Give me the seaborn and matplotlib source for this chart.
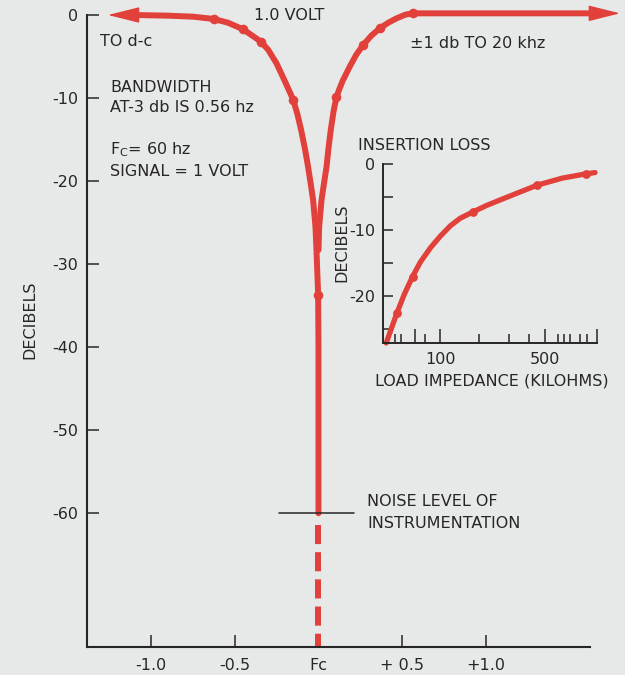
import matplotlib
matplotlib.use("Agg")
import matplotlib.pyplot as plt
from matplotlib.ticker import NullFormatter
import seaborn as sns

RED = "#e2403a"
INK = "#262626"
PAPER = "#e7e9e8"

# Notch response around the centre frequency Fc: offset (hz) vs level (dB)
left_offset = [-1.10, -0.90, -0.75, -0.625, -0.54, -0.45, -0.344, -0.30, -0.251, -0.20,
               -0.151, -0.125, -0.102, -0.080, -0.062, -0.045, -0.032, -0.018, -0.012,
               -0.002, 0.0, 0.0]
left_db = [0.0, -0.08, -0.2, -0.48, -0.93, -1.72, -3.2, -4.2, -5.8, -8.0,
           -10.2, -12.0, -14.0, -16.2, -18.3, -20.5, -22.3, -25.5, -28.3,
           -33.7, -40.0, -60.0]
right_offset = [1.64, 0.565, 0.52, 0.466, 0.415, 0.366, 0.315, 0.267, 0.225, 0.187,
                0.145, 0.125, 0.107, 0.090, 0.073, 0.060, 0.048, 0.032, 0.018, 0.004, 0.0]
right_db = [0.2, 0.2, 0.05, -0.4, -0.95, -1.6, -2.5, -3.6, -4.8, -6.2,
            -7.9, -8.9, -9.9, -11.6, -13.9, -16.0, -18.3, -20.4, -22.3, -25.5, -28.3]

# Measured points shown as dots on the curve
marker_offset = [-0.625, -0.45, -0.344, -0.151, -0.002, 0.565, 0.366, 0.267, 0.107]
marker_db = [-0.48, -1.72, -3.2, -10.2, -33.7, 0.2, -1.6, -3.6, -9.9]

# Below the instrumentation noise floor the notch is extrapolated
noise_floor_db = -60.0
noise_span = [-0.235, 0.215]
fc_offset = [0.0, 0.0]
below_noise_db = [-61.4, -76.1]

x_ticks = [-1.0, -0.5, 0.0, 0.5, 1.0]
x_tick_labels = ["-1.0", "-0.5", "Fc", "+ 0.5", "+1.0"]
y_ticks = [0, -10, -20, -30, -40, -50, -60]
y_tick_labels = ["0", "-10", "-20", "-30", "-40", "-50", "-60"]

# Insertion loss vs load impedance
load_kohm = [43.7, 51.4, 57.7, 65.5, 74.1, 86.4, 100, 116.9, 136, 166.7, 204, 262,
             337, 446, 652, 937, 1079]
insertion_db = [-27.2, -22.7, -19.8, -17.1, -14.85, -12.7, -11.0, -9.4, -8.25, -7.25,
                -6.3, -5.3, -4.3, -3.2, -2.15, -1.5, -1.3]
ins_marker_kohm = [51.4, 65.5, 166.7, 446, 937]
ins_marker_db = [-22.7, -17.1, -7.25, -3.2, -1.5]

ins_major_ticks = [68.5, 100, 500, 1110]
ins_major_labels = ["", "100", "500", ""]
ins_minor_ticks = [49.8, 54.6, 79.6, 180.6, 288, 391, 615, 674, 738, 859, 955]
ins_y_ticks = [0, -5, -10, -15, -20, -25]
ins_y_labels = ["0", "", "-10", "", "-20", ""]

sns.set_theme(style="ticks")
plt.rcParams["font.family"] = ["DejaVu Sans"]
plt.rcParams["axes.unicode_minus"] = False
plt.rcParams["text.color"] = INK
FS = 11.5

W, H = 625, 675
fig = plt.figure(figsize=(W / 100, H / 100), dpi=100, facecolor=PAPER)


def fig_xy(px, py):
    return px / W, 1 - py / H


# ---------------- main notch plot ----------------
ax = fig.add_axes([87 / W, 1 - 647 / H, 503 / W, 632 / H])
ax.set_facecolor("none")

line_kw = dict(color=RED, linewidth=4.3, clip_on=False, sort=False,
               estimator=None, ax=ax, legend=False, solid_joinstyle="round")
sns.lineplot(x=left_offset, y=left_db, **line_kw)
sns.lineplot(x=right_offset, y=right_db, **line_kw)
sns.lineplot(x=fc_offset, y=below_noise_db, color=RED, linewidth=4.3,
             linestyle=(0, (3.2, 1.35)), sort=False, estimator=None,
             ax=ax, legend=False, clip_on=False)
sns.lineplot(x=noise_span, y=[noise_floor_db, noise_floor_db], color=INK,
             linewidth=1.1, ax=ax, legend=False)
sns.scatterplot(x=marker_offset, y=marker_db, s=48, color=RED, edgecolor=RED,
                linewidth=0, zorder=4, clip_on=False, ax=ax, legend=False)

# arrowheads: flat response extends to d-c and to 20 khz
for tip, base, level in [(-1.257, -1.096, 0.0), (1.80, 1.633, 0.2)]:
    ax.annotate("", xy=(tip, level), xytext=(base, level), annotation_clip=False,
                arrowprops=dict(arrowstyle="-|>,head_length=2.0,head_width=0.5",
                                color=RED, lw=1, shrinkA=0, shrinkB=0,
                                mutation_scale=10))

ax.set_xlim(-1.382, 1.621)
ax.set_ylim(-76.1, 0)
ax.set_xticks(x_ticks, x_tick_labels)
ax.set_yticks(y_ticks, y_tick_labels)
ax.set_xlabel("")
ax.set_ylabel("")
sns.despine(ax=ax)
for s in ["left", "bottom"]:
    ax.spines[s].set_linewidth(1.5)
    ax.spines[s].set_color(INK)
ax.tick_params(axis="both", direction="in", length=8.5, width=1.1, color=INK,
               labelcolor=INK, labelsize=FS)
ax.tick_params(axis="y", pad=6.5)
ax.tick_params(axis="x", pad=8)

txt = dict(fontsize=FS, color=INK, ha="left", va="center")
fig.text(*fig_xy(30, 320), "DECIBELS", rotation=90, **{**txt, "ha": "center"})
fig.text(*fig_xy(254, 15), "1.0 VOLT", **txt)
fig.text(*fig_xy(100, 42), "TO d-c", **txt)
fig.text(*fig_xy(410, 43), "\u00b11 db TO 20 khz", **txt)
fig.text(*fig_xy(110, 87), "BANDWIDTH", **txt)
fig.text(*fig_xy(110, 108), "AT-3 db IS 0.56 hz", **txt)
fig.text(*fig_xy(110, 150), r"F$_\mathregular{C}$= 60 hz", **txt)
fig.text(*fig_xy(110, 171), "SIGNAL = 1 VOLT", **txt)
fig.text(*fig_xy(367, 502), "NOISE LEVEL OF", **txt)
fig.text(*fig_xy(367, 523), "INSTRUMENTATION", **txt)

# ---------------- inset: insertion loss ----------------
axi = fig.add_axes([383 / W, 1 - 343 / H, 214 / W, 179 / H])
axi.set_facecolor("none")
axi.set_xscale("log")
sns.lineplot(x=load_kohm, y=insertion_db, color=RED, linewidth=3.8, sort=False,
             estimator=None, ax=axi, legend=False, clip_on=False,
             solid_joinstyle="round")
sns.scatterplot(x=ins_marker_kohm, y=ins_marker_db, s=40, color=RED, edgecolor=RED,
                linewidth=0, zorder=4, clip_on=False, ax=axi, legend=False)
axi.set_xlim(41.6, 1112)
axi.set_ylim(-27.2, 0)
axi.set_xticks(ins_major_ticks, ins_major_labels)
axi.set_xticks(ins_minor_ticks, minor=True)
axi.xaxis.set_minor_formatter(NullFormatter())
axi.set_yticks(ins_y_ticks, ins_y_labels)
axi.set_xlabel("")
axi.set_ylabel("")
sns.despine(ax=axi)
for s in ["left", "bottom"]:
    axi.spines[s].set_linewidth(1.4)
    axi.spines[s].set_color(INK)
axi.tick_params(axis="both", which="both", direction="in", width=1.1, color=INK,
                labelcolor=INK, labelsize=FS)
axi.tick_params(axis="x", which="major", length=10, pad=6.5)
axi.tick_params(axis="x", which="minor", length=6.5)
axi.tick_params(axis="y", length=7, pad=5.5)

fig.text(*fig_xy(342, 243), "DECIBELS", rotation=90, **{**txt, "ha": "center"})
fig.text(*fig_xy(358, 145), "INSERTION LOSS", **txt)
fig.text(*fig_xy(375, 381), "LOAD IMPEDANCE (KILOHMS)", **txt)

fig.savefig("out.png", dpi=100, facecolor=PAPER)
